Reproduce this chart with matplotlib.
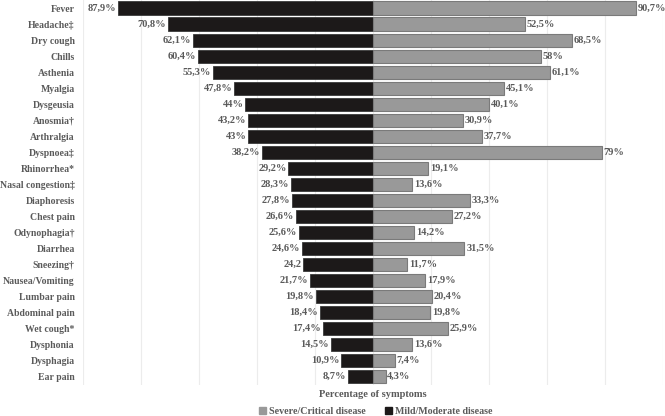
import matplotlib
matplotlib.use("Agg")
import matplotlib.pyplot as plt
from matplotlib.patches import Patch

symptoms = ["Fever", "Headache‡", "Dry cough", "Chills", "Asthenia", "Myalgia",
            "Dysgeusia", "Anosmia†", "Arthralgia", "Dyspnoea‡", "Rhinorrhea*",
            "Nasal congestion‡", "Diaphoresis", "Chest pain", "Odynophagia†",
            "Diarrhea", "Sneezing†", "Nausea/Vomiting", "Lumbar pain",
            "Abdominal pain", "Wet cough*", "Dysphonia", "Dysphagia", "Ear pain"]
mild = [87.9, 70.8, 62.1, 60.4, 55.3, 47.8, 44, 43.2, 43, 38.2, 29.2, 28.3,
        27.8, 26.6, 25.6, 24.6, 24.2, 21.7, 19.8, 18.4, 17.4, 14.5, 10.9, 8.7]
severe = [90.7, 52.5, 68.5, 58, 61.1, 45.1, 40.1, 30.9, 37.7, 79, 19.1, 13.6,
          33.3, 27.2, 14.2, 31.5, 11.7, 17.9, 20.4, 19.8, 25.9, 13.6, 7.4, 4.3]
mild_labels = ["87,9%", "70,8%", "62,1%", "60,4%", "55,3%", "47,8%", "44%",
               "43,2%", "43%", "38,2%", "29,2%", "28,3%", "27,8%", "26,6%",
               "25,6%", "24,6%", "24,2", "21,7%", "19,8%", "18,4%", "17,4%",
               "14,5%", "10,9%", "8,7%"]
severe_labels = ["90,7%", "52,5%", "68,5%", "58%", "61,1%", "45,1%", "40,1%",
                 "30,9%", "37,7%", "79%", "19,1%", "13,6%", "33,3%", "27,2%",
                 "14,2%", "31,5%", "11,7%", "17,9%", "20,4%", "19,8%", "25,9%",
                 "13,6%", "7,4%", "4,3%"]

TXT = "#5a5a5a"
DARK = "#1c1919"
GREY = "#999999"
plt.rcParams["font.family"] = ["Liberation Serif", "DejaVu Serif"]
plt.rcParams["font.weight"] = "bold"

fig = plt.figure(figsize=(6.65, 4.16), dpi=100)
ax = fig.add_axes([0.125, 0.075, 0.872, 0.925])

y = list(range(len(symptoms)))
ax.barh(y, [-v for v in mild], height=0.82, color=DARK, edgecolor="#3a3a3a",
        lw=0.6, zorder=2)
ax.barh(y, severe, height=0.82, color=GREY, edgecolor="#7a7a7a", lw=0.8, zorder=2)

for i in y:
    ax.text(-mild[i] - 0.6, i, mild_labels[i], ha="right", va="center",
            fontsize=7.5, color=TXT, fontweight="bold")
    ax.text(severe[i] + 0.6, i, severe_labels[i], ha="left", va="center",
            fontsize=7.5, color=TXT, fontweight="bold")

ax.set_xlim(-100, 100)
ax.set_ylim(len(symptoms) - 0.5, -0.5)
ax.set_xticks(range(-100, 101, 20))
ax.set_xticklabels([])
ax.tick_params(axis="x", length=0)
ax.tick_params(axis="y", length=0, pad=6)
ax.set_yticks(y)
ax.set_yticklabels(symptoms, fontsize=7, color=TXT, fontweight="bold")
ax.grid(axis="x", color="#ececec", lw=0.8, zorder=0)
for s in ax.spines.values():
    s.set_visible(False)

ax.set_xlabel("Percentage of symptoms", fontsize=7.5, color=TXT,
              fontweight="bold", labelpad=0)

handles = [Patch(facecolor=GREY, edgecolor=GREY, label="Severe/Critical disease"),
           Patch(facecolor=DARK, edgecolor=DARK, label="Mild/Moderate disease")]
leg = fig.legend(handles=handles, loc="lower center", bbox_to_anchor=(0.565, -0.022),
                 ncol=2, frameon=False, fontsize=7.2, handlelength=0.7,
                 handleheight=0.7, handletextpad=0.3, columnspacing=2.0)
for t in leg.get_texts():
    t.set_color(TXT)

fig.savefig("out.png", dpi=100)
